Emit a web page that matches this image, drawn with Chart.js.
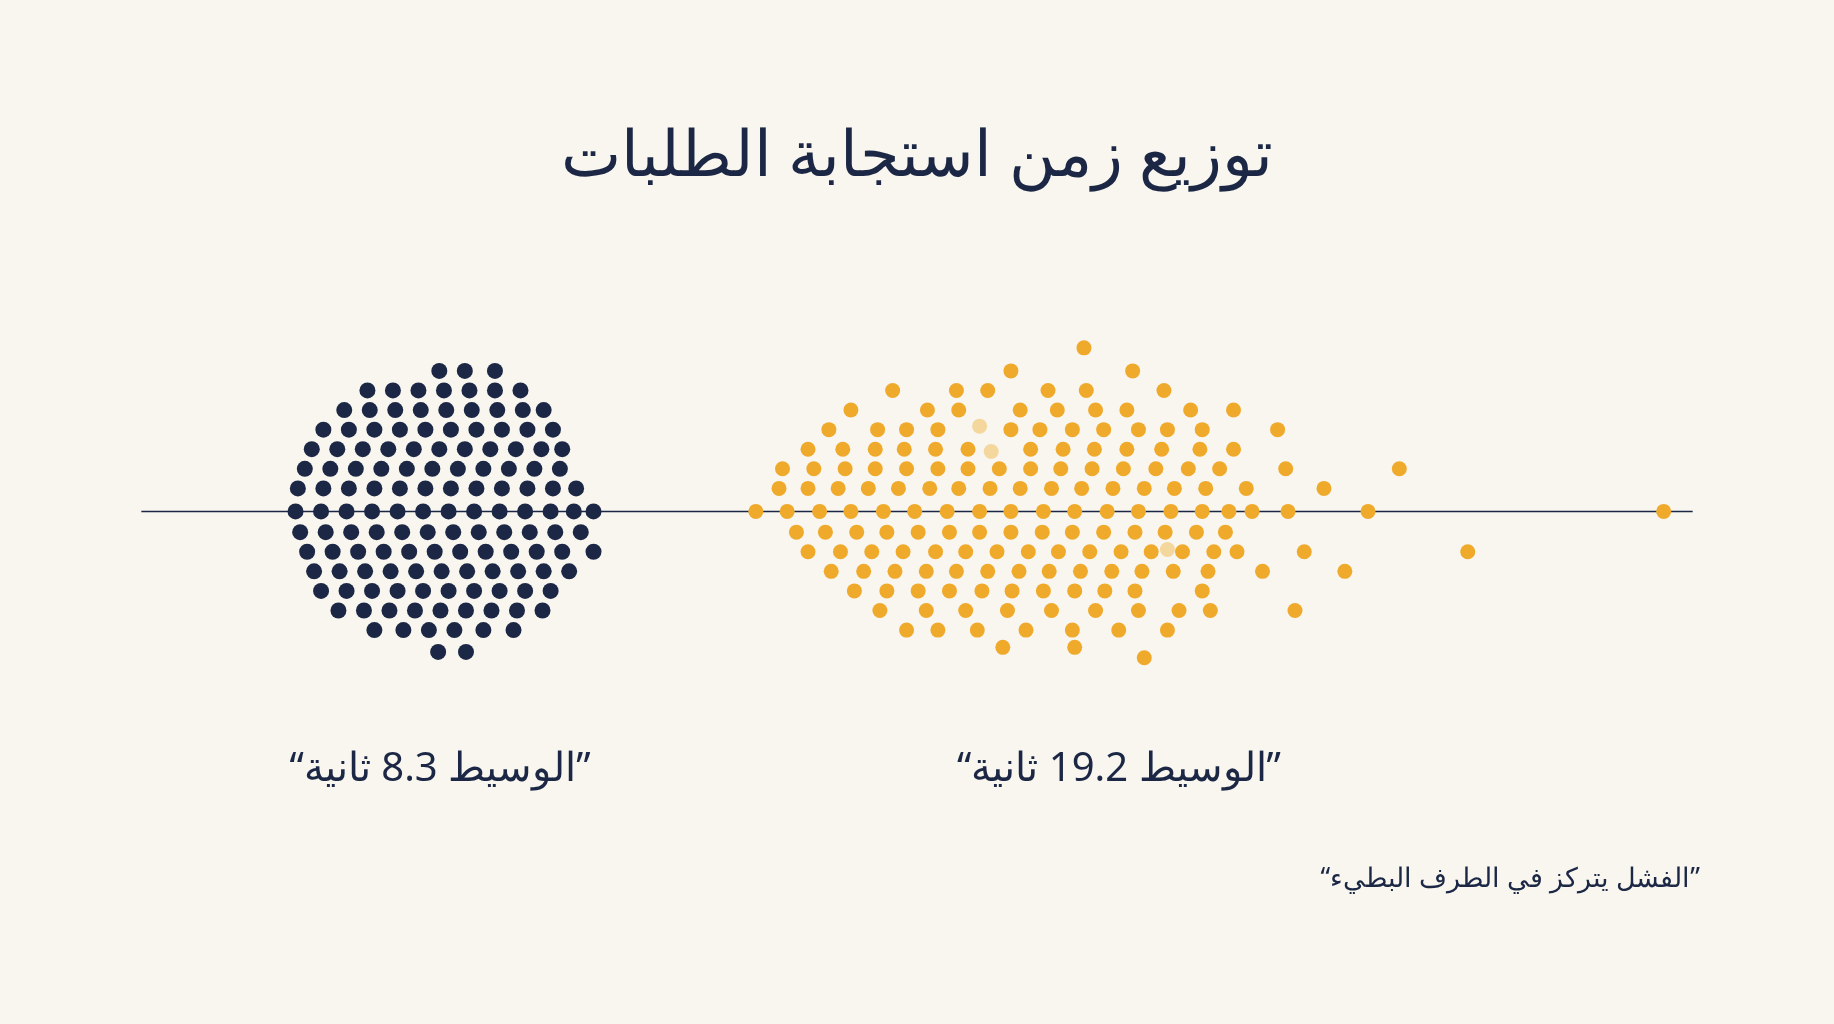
<!DOCTYPE html>
<html><head><meta charset="utf-8">
<script src="https://cdn.jsdelivr.net/npm/chart.js@4"></script>
<style>
html,body{margin:0;padding:0;background:#f8f6ef;width:1834px;height:1024px;overflow:hidden;font-family:"Noto Sans",sans-serif;color:#1b2744}
#wrap{position:absolute;left:0;top:0;width:1834px;height:1024px}
.t{position:absolute;direction:rtl;white-space:nowrap}
</style></head><body>
<div id="wrap"><canvas id="c"></canvas></div>
<div class="t" style="left:0;width:1834px;text-align:center;top:108px;font-size:64px;font-weight:500">توزيع زمن استجابة الطلبات</div>
<div class="t" style="left:190px;width:500px;text-align:center;top:738px;font-size:40px">”الوسيط 8.3 ثانية“</div>
<div class="t" style="left:869px;width:500px;text-align:center;top:738px;font-size:40px">”الوسيط 19.2 ثانية“</div>
<div class="t" style="right:134px;top:858px;font-size:27px">”الفشل يتركز في الطرف البطيء“</div>
<script>
// rows: [y offset, x positions...]  (x in reference px, y up from axis)
const fastRows = [
  [122, 372,394,420],
  [105, 310,332,354,376,398,420,442],
  [88, 290,312,334,356,378,400,422,444,462],
  [71, 272,294,316,338,360,382,404,426,448,470],
  [54, 262,284,306,328,350,372,394,416,438,460,478],
  [37, 256,278,300,322,344,366,388,410,432,454,476],
  [20, 250,272,294,316,338,360,382,404,426,448,470,490],
  [0, 248,270,292,314,336,358,380,402,424,446,468,488,505],
  [-18, 252,274,296,318,340,362,384,406,428,450,472,494],
  [-35, 258,280,302,324,346,368,390,412,434,456,478,505],
  [-52, 264,286,308,330,352,374,396,418,440,462,484],
  [-69, 270,292,314,336,358,380,402,424,446,468],
  [-86, 285,307,329,351,373,395,417,439,461],
  [-103, 316,341,363,385,410,436],
  [-122, 371,395]
];
const slowRows = [
  [142, 928],
  [122, 865,970],
  [105, 763,818,845,897,930,997],
  [88, 727,793,820,873,905,938,965,1020,1057],
  [71, 708,750,775,802,865,890,918,945,975,1000,1030,1095],
  [54, 690,720,748,773,800,828,882,910,937,965,995,1028,1057],
  [37, 668,695,722,748,775,802,828,855,882,908,935,962,990,1018,1045,1102,1200],
  [20, 665,690,716,742,768,795,820,847,873,900,926,953,980,1006,1033,1068,1135],
  [0, 645,672,700,727,755,782,810,838,865,893,920,948,975,1003,1030,1053,1073,1104,1173,1428],
  [-18, 680,705,732,758,785,812,838,865,892,918,945,972,998,1025,1050],
  [-35, 690,718,745,772,800,826,853,880,906,933,960,986,1013,1040,1060,1118,1259],
  [-52, 710,738,765,792,818,845,872,898,925,952,978,1005,1035,1082,1153],
  [-69, 730,758,785,812,840,866,893,920,946,972,1030],
  [-86, 752,792,826,862,900,938,975,1010,1037,1110],
  [-103, 775,802,836,878,918,958,1000],
  [-118, 858,920],
  [-127, 980]
];
const paleX = [838, 848, 1000];
const paleY = [74, 52, -33];
const axisX = [115, 1453];

const toPts = rows => rows.flatMap(r => r.slice(1).map(x => ({ x, y: r[0] })));

new Chart(document.getElementById('c'), {
  type: 'scatter',
  data: {
    datasets: [
      { type: 'line', data: axisX.map(x => ({ x, y: 0 })), borderColor: '#1b2744', borderWidth: 1.5, pointRadius: 0, order: 3 },
      { data: toPts(fastRows), backgroundColor: '#1b2744', pointRadius: 8, borderWidth: 0, order: 1 },
      { data: toPts(slowRows), backgroundColor: '#efaa2c', pointRadius: 7.5, borderWidth: 0, order: 1 },
      { data: paleX.map((x, i) => ({ x, y: paleY[i] })), backgroundColor: '#f4d79c', pointRadius: 7.5, borderWidth: 0, order: 2 }
    ]
  },
  options: {
    responsive: true, maintainAspectRatio: false, animation: false,
    layout: { padding: 0 },
    scales: {
      x: { display: false, min: 0, max: 1568 },
      y: { display: false, min: -438, max: 437 }
    },
    plugins: { legend: { display: false }, tooltip: { enabled: false } }
  }
});
</script>
</body></html>
